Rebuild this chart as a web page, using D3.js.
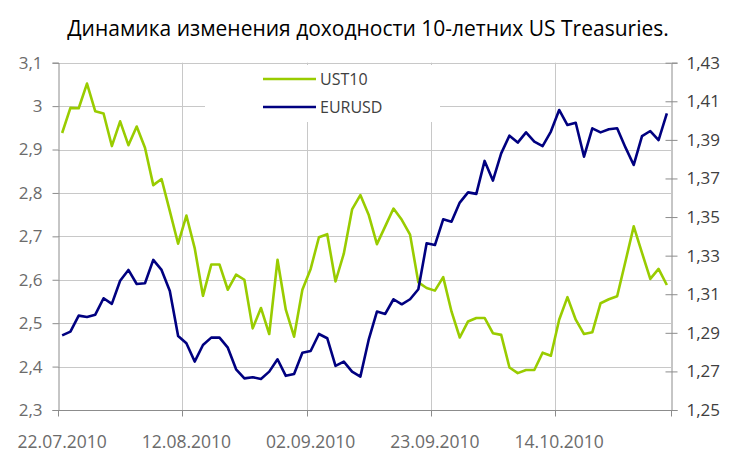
<!DOCTYPE html>
<html>
<head>
<meta charset="utf-8">
<script src="https://cdn.jsdelivr.net/npm/d3@7"></script>
<style>
  html, body { margin: 0; padding: 0; background: #fff; }
  svg { display: block; }
  text { font-family: "Open Sans", "Noto Sans", sans-serif; }
</style>
</head>
<body>
<svg id="chart" width="731" height="453"></svg>
<script>
const dates = [
  "22.07.2010","23.07.2010","26.07.2010","27.07.2010","28.07.2010","29.07.2010","30.07.2010",
  "02.08.2010","03.08.2010","04.08.2010","05.08.2010","06.08.2010",
  "09.08.2010","10.08.2010","11.08.2010","12.08.2010","13.08.2010",
  "16.08.2010","17.08.2010","18.08.2010","19.08.2010","20.08.2010",
  "23.08.2010","24.08.2010","25.08.2010","26.08.2010","27.08.2010",
  "30.08.2010","31.08.2010","01.09.2010","02.09.2010","03.09.2010",
  "06.09.2010","07.09.2010","08.09.2010","09.09.2010","10.09.2010",
  "13.09.2010","14.09.2010","15.09.2010","16.09.2010","17.09.2010",
  "20.09.2010","21.09.2010","22.09.2010","23.09.2010","24.09.2010",
  "27.09.2010","28.09.2010","29.09.2010","30.09.2010","01.10.2010",
  "04.10.2010","05.10.2010","06.10.2010","07.10.2010","08.10.2010",
  "11.10.2010","12.10.2010","13.10.2010","14.10.2010","15.10.2010",
  "18.10.2010","19.10.2010","20.10.2010","21.10.2010","22.10.2010",
  "25.10.2010","26.10.2010","27.10.2010","28.10.2010","29.10.2010",
  "01.11.2010","02.11.2010"
];
const ust10 = [
  2.938,2.996,2.995,3.052,2.988,2.983,2.908,2.965,2.910,2.953,2.904,2.818,2.832,2.758,2.683,
  2.748,2.673,2.563,2.635,2.635,2.577,2.612,2.600,2.488,2.535,2.475,2.646,2.531,2.469,2.577,
  2.625,2.698,2.705,2.596,2.660,2.762,2.795,2.750,2.682,2.723,2.764,2.738,2.704,2.594,2.581,
  2.575,2.606,2.527,2.467,2.504,2.512,2.512,2.477,2.473,2.398,2.385,2.392,2.392,2.432,2.425,
  2.508,2.560,2.508,2.475,2.479,2.546,2.555,2.562,2.642,2.723,2.662,2.602,2.625,2.588
];
const eurusd = [
  1.2887,1.2906,1.2989,1.2982,1.2994,1.3079,1.3050,1.3170,1.3226,1.3153,1.3157,1.3278,1.3226,1.3117,1.2884,
  1.2846,1.2751,1.2837,1.2875,1.2875,1.2823,1.2711,1.2664,1.2670,1.2661,1.2699,1.2763,1.2677,1.2687,1.2797,
  1.2806,1.2894,1.2872,1.2729,1.2751,1.2699,1.2673,1.2863,1.3010,1.2998,1.3074,1.3048,1.3074,1.3126,1.3364,
  1.3355,1.3488,1.3476,1.3575,1.3628,1.3620,1.3791,1.3689,1.3830,1.3922,1.3886,1.3939,1.3891,1.3868,1.3943,
  1.4055,1.3977,1.3989,1.3813,1.3960,1.3939,1.3955,1.3960,1.3861,1.3770,1.3920,1.3946,1.3899,1.4037
];
const leftTicks = [2.3,2.4,2.5,2.6,2.7,2.8,2.9,3.0,3.1];
const rightTicks = [1.25,1.27,1.29,1.31,1.33,1.35,1.37,1.39,1.41,1.43];
const xLabelIdx = [0,15,30,45,60];
const titleText = "Динамика изменения доходности 10-летних US Treasuries.";
const seriesNames = ["UST10","EURUSD"];
const colors = ["#99cc00","#000080"];

const svg = d3.select("#chart");
const L = 58, R = 671, T = 62.7, B = 410;

const x = d3.scaleBand().domain(d3.range(dates.length)).range([L, R]).paddingInner(0).paddingOuter(0);
const xc = i => x(i) + x.bandwidth()/2;
const yL = d3.scaleLinear().domain([2.3, 3.1]).range([B, T]);
const yR = d3.scaleLinear().domain([1.25, 1.43]).range([B, T]);
const fmt = v => d3.format(".2~f")(v).replace(".", ",");

// horizontal gridlines
svg.append("g").selectAll("line").data(leftTicks.slice(1)).join("line")
  .attr("x1", L).attr("x2", R)
  .attr("y1", d => Math.round(yL(d)) + 0.5).attr("y2", d => Math.round(yL(d)) + 0.5)
  .attr("stroke", "#c8c8c8").attr("stroke-width", 1);
// vertical gridlines
svg.append("g").selectAll("line").data(xLabelIdx.slice(1)).join("line")
  .attr("x1", d => Math.round(x(d)) + 0.5).attr("x2", d => Math.round(x(d)) + 0.5)
  .attr("y1", T).attr("y2", B)
  .attr("stroke", "#c8c8c8").attr("stroke-width", 1);

// legend box (white, covers gridlines)
svg.append("rect").attr("x", 205).attr("y", 65).attr("width", 235).attr("height", 57).attr("fill", "#fff");

// left axis
const axL = svg.append("g").attr("transform", `translate(${L+0.5},0)`)
  .call(d3.axisLeft(yL).tickValues(leftTicks).tickFormat(fmt).tickSize(6).tickPadding(10));
axL.select(".domain").attr("stroke", "#8c8c8c");
axL.selectAll(".tick line").attr("stroke", "#8c8c8c");
axL.selectAll("text").attr("font-size", 17).attr("fill", "#6b6b6b").style("font-family", '"Open Sans", sans-serif');

// right axis
const axR = svg.append("g").attr("transform", `translate(${R+0.5},0)`)
  .call(d3.axisRight(yR).tickValues(rightTicks).tickFormat(fmt).tickSize(6).tickPadding(9));
axR.select(".domain").attr("stroke", "#8c8c8c");
axR.selectAll(".tick line").attr("stroke", "#8c8c8c").attr("x1", -6);
axR.selectAll("text").attr("font-size", 17).attr("fill", "#404040").style("font-family", '"Open Sans", sans-serif');

// bottom axis
const axB = svg.append("g").attr("transform", `translate(0,${B+0.5})`);
axB.append("line").attr("x1", L).attr("x2", R).attr("stroke", "#8c8c8c");
axB.selectAll("line.tk").data(xLabelIdx.concat([dates.length])).join("line").attr("class","tk")
  .attr("x1", d => Math.round(d < dates.length ? x(d) : R) + 0.5)
  .attr("x2", d => Math.round(d < dates.length ? x(d) : R) + 0.5)
  .attr("y1", 0).attr("y2", 6).attr("stroke", "#8c8c8c");
axB.selectAll("text").data(xLabelIdx).join("text")
  .attr("x", d => xc(d)).attr("y", 37)
  .attr("text-anchor", "middle")
  .attr("font-size", 17.5).attr("fill", "#6b6b6b")
  .text(d => dates[d]);

// lines
const lineL = d3.line().x((d, i) => xc(i)).y(d => yL(d));
const lineR = d3.line().x((d, i) => xc(i)).y(d => yR(d));
svg.append("path").datum(ust10).attr("d", lineL).attr("fill", "none")
  .attr("stroke", colors[0]).attr("stroke-width", 2.6).attr("stroke-linejoin", "round");
svg.append("path").datum(eurusd).attr("d", lineR).attr("fill", "none")
  .attr("stroke", colors[1]).attr("stroke-width", 2.6).attr("stroke-linejoin", "round");

// legend
const lg = svg.append("g");
seriesNames.forEach((n, k) => {
  const yy = 79 + k * 28;
  lg.append("line").attr("x1", 263).attr("x2", 316).attr("y1", yy).attr("y2", yy)
    .attr("stroke", colors[k]).attr("stroke-width", 2.6);
  lg.append("text").attr("x", 320).attr("y", yy).attr("dy", "0.35em")
    .attr("font-size", 16).attr("fill", "#404040").text(n);
});

// title
svg.append("text").attr("x", 368).attr("y", 36).attr("text-anchor", "middle")
  .attr("font-size", 21).attr("fill", "#000").text(titleText);
</script>
</body>
</html>
